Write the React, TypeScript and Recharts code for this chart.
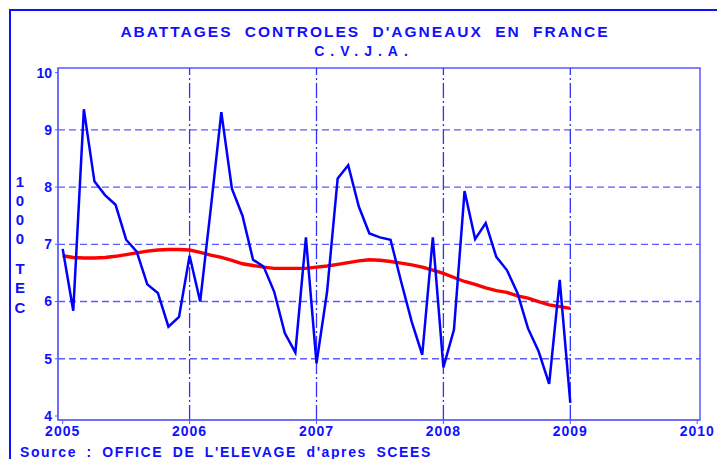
import React from "react";
import {
  LineChart,
  Line,
  XAxis,
  YAxis,
  ReferenceLine,
  ReferenceArea,
} from "recharts";

const START_YEAR = 2005;

// monthly controlled lamb slaughterings, thousand tec, Jan 2005 .. Jan 2009
const abattages = [
  6.92, 5.84, 9.36, 8.1, 7.86, 7.69, 7.08, 6.87, 6.3, 6.15, 5.56, 5.73,
  6.8, 6.0, 7.62, 9.31, 7.97, 7.5, 6.73, 6.61, 6.17, 5.45, 5.11, 7.12,
  4.92, 6.17, 8.15, 8.38, 7.66, 7.19, 7.12, 7.08, 6.35, 5.65, 5.07, 7.12,
  4.85, 5.51, 7.93, 7.09, 7.37, 6.78, 6.55, 6.15, 5.53, 5.13, 4.56, 6.38,
  4.23,
];

// smoothed trend
const tendance = [
  6.8, 6.77, 6.76, 6.76, 6.77, 6.79, 6.82, 6.85, 6.88, 6.9, 6.91, 6.91,
  6.9, 6.86, 6.81, 6.77, 6.72, 6.66, 6.63, 6.6, 6.58, 6.58, 6.58, 6.58,
  6.6, 6.62, 6.65, 6.68, 6.71, 6.73, 6.72, 6.7, 6.67, 6.64, 6.6, 6.55,
  6.49, 6.42, 6.35, 6.3, 6.24, 6.19, 6.16, 6.1, 6.06, 6.0, 5.94, 5.91,
  5.88,
];

const xTicks = [2005, 2006, 2007, 2008, 2009, 2010];
const yTicks = [4, 5, 6, 7, 8, 9, 10];
const gridYears = [2006, 2007, 2008, 2009];
const gridValues = [5, 6, 7, 8, 9];
const yLabelChars = ["1", "0", "0", "0", "T", "E", "C"];

const title = "ABATTAGES CONTROLES D'AGNEAUX EN FRANCE";
const subtitle = "C.V.J.A.";
const source = "Source : OFFICE DE L'ELEVAGE d'apres SCEES";

const data = abattages.map((v, i) => ({
  t: START_YEAR + i / 12,
  abattages: v,
  tendance: tendance[i],
}));

const BLUE = "#1010ff";
const LIGHT = "#5a5aff";
const FONT = "'Liberation Sans', Arial, sans-serif";

const X_DOMAIN: [number, number] = [2004.963, 2010.022];
const Y_DOMAIN: [number, number] = [3.93, 10.08];

const yCharPos = [187, 206, 225, 244, 274, 293, 313];

export default function App() {
  return (
    <div
      style={{
        position: "absolute",
        left: 0,
        top: 0,
        width: 717,
        height: 459,
        overflow: "hidden",
        background: "#fff",
        fontFamily: FONT,
      }}
    >
      <div
        style={{
          position: "absolute",
          left: 9,
          top: 9,
          width: 740,
          height: 480,
          border: `2px solid ${BLUE}`,
        }}
      />
      <LineChart
        width={717}
        height={459}
        data={data}
        margin={{ top: 68, right: 17, bottom: 0, left: 0 }}
        style={{ position: "absolute", left: 0, top: 0 }}
      >
        <XAxis
          dataKey="t"
          type="number"
          domain={X_DOMAIN}
          allowDataOverflow
          ticks={xTicks}
          interval={0}
          height={39}
          stroke={LIGHT}
          tickSize={4}
          tickMargin={2}
          tick={{ fill: BLUE, fontSize: 14, fontWeight: 700, fontFamily: FONT, letterSpacing: 1 }}
        />
        <YAxis
          type="number"
          domain={Y_DOMAIN}
          allowDataOverflow
          ticks={yTicks}
          interval={0}
          width={58}
          stroke={LIGHT}
          tickSize={3}
          tickMargin={3}
          tick={{ fill: BLUE, fontSize: 14, fontWeight: 700, fontFamily: FONT }}
        />
        {gridValues.map((v) => (
          <ReferenceLine key={`h${v}`} y={v} stroke={LIGHT} strokeWidth={1.3} strokeDasharray="7 4" />
        ))}
        {gridYears.map((y) => (
          <ReferenceLine key={`v${y}`} x={y} stroke="#3030ff" strokeWidth={1.3} strokeDasharray="15 3 2 3" />
        ))}
        <ReferenceArea
          x1={X_DOMAIN[0]}
          x2={X_DOMAIN[1]}
          y1={Y_DOMAIN[0]}
          y2={Y_DOMAIN[1]}
          fill="none"
          stroke={LIGHT}
          strokeWidth={1.5}
        />
        <Line
          dataKey="tendance"
          stroke="#ff0000"
          strokeWidth={3.4}
          dot={false}
          type="linear"
          isAnimationActive={false}
        />
        <Line
          dataKey="abattages"
          stroke="#0000ff"
          strokeWidth={2.5}
          dot={false}
          type="linear"
          isAnimationActive={false}
        />
      </LineChart>
      <svg
        width={717}
        height={459}
        style={{ position: "absolute", left: 0, top: 0, pointerEvents: "none" }}
      >
        <g fill={BLUE} fontFamily={FONT} fontWeight={700}>
          <text x={365} y={37} textAnchor="middle" fontSize={15.5} letterSpacing={2} wordSpacing={6}>
            {title}
          </text>
          <text x={364} y={56} textAnchor="middle" fontSize={14} letterSpacing={6}>
            {subtitle}
          </text>
          {yLabelChars.map((c, i) => (
            <text key={i} x={20} y={yCharPos[i]} textAnchor="middle" fontSize={15}>
              {c}
            </text>
          ))}
          <text x={20} y={457} fontSize={14} letterSpacing={1.6} wordSpacing={4}>
            {source}
          </text>
        </g>
      </svg>
    </div>
  );
}
